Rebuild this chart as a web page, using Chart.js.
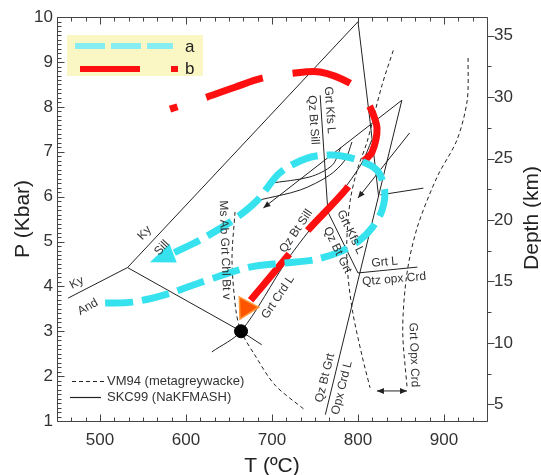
<!DOCTYPE html>
<html>
<head>
<meta charset="utf-8">
<script src="https://cdn.jsdelivr.net/npm/chart.js@4.4.0/dist/chart.umd.min.js"></script>
<style>
  html, body { margin: 0; padding: 0; background: #fff; }
</style>
</head>
<body>
<canvas id="chart" width="541" height="475"></canvas>
<script>
// Axis ticks
const tempTicks = [500, 600, 700, 800, 900];
const pressureTicks = [1, 2, 3, 4, 5, 6, 7, 8, 9, 10];
const depthTicks = [5, 10, 15, 20, 25, 30, 35];
const kmPerKbar = 3.65;

// SKC99 (NaKFMASH) reaction lines, [T ºC, P kbar]
const kyAndLine = [[463, 3.74], [532, 4.42]];
const kySillLine = [[532, 4.42], [800, 9.9]];
const andSillLine = [[532, 4.42], [664, 3.0], [688, 2.7]];
const grtCrdLLine = [[630, 2.54], [664, 3.0], [717, 4.57], [744, 5.26], [767, 5.79], [788, 6.28], [805, 6.77], [816, 7.26]];
const grtKfsLLine = [[756, 8.26], [765, 5.66], [800, 4.30]];
const opxCrdLLine = [[762, 1.14], [851, 8.15]];
const grtLLine = [[800, 4.30], [869, 4.43]];
const apexLine = [[800, 9.9], [814, 7.68], [824, 6.0]];
const arrowLineA = [[851, 8.15], [690, 5.75]];
const arrowLineB = [[860, 7.42], [800, 5.97]];
const shortLine = [[876, 6.19], [826, 6.04]];
const curveA = [[698, 6.30], [744, 6.44], [770, 6.70], [780, 7.10]];
const curveB = [[684, 5.92], [733, 6.15], [767, 6.48], [785, 6.82], [793, 7.22]];
const invariantPoint = [664, 3.0];

// VM94 (metagreywacke) curves
const msAbCurve = [[657, 5.66], [653.5, 4.59], [658, 3.47], [664, 3.0], [680, 2.47], [703.5, 1.80], [738, 1.25]];
const vmMidCurve = [[841, 9.26], [828, 8.49], [810.5, 7.22], [799, 6.59], [791, 5.92], [787, 5.03], [788, 4.30], [794, 3.41], [805, 2.43], [814, 1.74]];
const vmRightCurve = [[928, 9.09], [927, 8.15], [915, 7.26], [892, 6.44], [869, 5.32], [857, 4.30], [852, 3.03], [857, 1.76]];
const spanArrow = [[822, 1.67], [857, 1.67]];

// P-T paths a (cyan) and b (red)
const pathA = [[506, 3.63], [538, 3.65], [578, 3.83], [616, 4.08], [636, 4.21], [674, 4.43], [713, 4.52], [748, 4.59],
  [779, 4.77], [802, 5.03], [817, 5.32], [828, 5.70], [831, 6.15], [822, 6.59], [799, 6.82], [771, 6.93],
  [741, 6.86], [709, 6.53], [683, 5.92], [655, 5.48], [616, 5.03], [585, 4.74]];
const pathATip = [558, 4.54];
const pathB = [[581.4, 7.95], [624.4, 8.22], [657, 8.44], [688.4, 8.64], [724.4, 8.75], [755.8, 8.78], [790.7, 8.53],
  [804.7, 8.26], [814, 8.00], [822.1, 7.53], [816.3, 6.99], [805.8, 6.77], [787.2, 6.19], [740.7, 5.23],
  [720.9, 4.74], [673.3, 3.65]];
const pathBTip = [662.8, 3.27];

// Field / reaction labels: text, T, P, rotation (deg)
const fieldLabels = [
  ['Ky', 552, 5.19, -47],
  ['Sill', 572, 4.86, -47],
  ['Ky', 473, 4.08, -27],
  ['And', 486, 3.54, -30],
  ['Ms Ab Grt Chl Bt v', 645, 4.81, 88],
  ['Qz Bt Sill', 728, 5.23, -56],
  ['Grt Crd L', 707, 3.76, -56],
  ['Grt Kfs L', 767, 7.93, 86],
  ['Qz Bt Sill', 748, 7.71, 86],
  ['Grt Kfs L', 791, 5.21, 64],
  ['Qz Bt Grt', 776, 4.81, 64],
  ['Grt L', 831, 4.54, -5],
  ['Qtz opx Crd', 842, 4.16, -5],
  ['Grt Opx Crd', 865, 2.47, 88],
  ['Qz Bt Grt', 761.6, 1.96, -76],
  ['Opx Crd L', 781.4, 1.74, -76]
];

const FONT = "'Liberation Sans', Arial, sans-serif";
const CYAN = '#35e2ee';
const RED = '#ff1010';

const toXY = arr => arr.map(([t, p]) => ({ x: t, y: p }));

function thinLine(points, dashed, extra) {
  return Object.assign({
    data: toXY(points),
    showLine: true,
    pointRadius: 0,
    borderColor: '#222',
    borderWidth: 1,
    borderDash: dashed ? [4, 3] : [],
    tension: dashed ? 0.3 : 0,
    order: 10
  }, extra || {});
}

const smallHead = { len: 7, half: 3, fill: '#222' };

const datasets = [
  thinLine(kyAndLine),
  thinLine(kySillLine),
  thinLine(andSillLine),
  thinLine(grtCrdLLine, false, { tension: 0.3 }),
  thinLine(grtKfsLLine),
  thinLine(opxCrdLLine),
  thinLine(grtLLine),
  thinLine(apexLine),
  thinLine(arrowLineA, false, { arrow: smallHead }),
  thinLine(arrowLineB, false, { arrow: smallHead }),
  thinLine(shortLine),
  thinLine(curveA, false, { tension: 0.3 }),
  thinLine(curveB, false, { tension: 0.3 }),
  thinLine(msAbCurve, true),
  thinLine(vmMidCurve, true),
  thinLine(vmRightCurve, true),
  thinLine(spanArrow, false, { arrow: Object.assign({ both: true }, smallHead) }),
  {
    data: toXY(pathB),
    showLine: true, pointRadius: 0,
    borderColor: RED, borderWidth: 7,
    borderDash: [60, 30], borderDashOffset: 52,
    tension: 0.3, order: 2,
    arrow: { tip: pathBTip, half: 11, fill: '#ff5500', stroke: '#ff9a3a' }
  },
  {
    data: toXY(pathA),
    showLine: true, pointRadius: 0,
    borderColor: CYAN, borderWidth: 7,
    borderDash: [28, 9],
    tension: 0.3, order: 1,
    arrow: { tip: pathATip, half: 10, fill: CYAN }
  },
  {
    data: toXY([invariantPoint]),
    showLine: false, pointRadius: 6.5,
    backgroundColor: '#000', borderColor: '#000', order: 0
  }
];

// arrow heads at the end of flagged datasets
const arrowPlugin = {
  id: 'arrowHeads',
  afterDatasetsDraw(chart) {
    const { ctx, scales } = chart;
    const px = p => [scales.x.getPixelForValue(p.x), scales.y.getPixelForValue(p.y)];
    chart.data.datasets.forEach(ds => {
      const a = ds.arrow;
      if (!a) return;
      const pts = ds.data;
      const heads = [];
      if (a.tip) heads.push([pts[pts.length - 1], { x: a.tip[0], y: a.tip[1] }, true]);
      else heads.push([pts[pts.length - 2], pts[pts.length - 1], false]);
      if (a.both) heads.push([pts[1], pts[0], false]);
      heads.forEach(([from, to, fromBase]) => {
        const [x1, y1] = px(from);
        const [x2, y2] = px(to);
        const ang = Math.atan2(y2 - y1, x2 - x1);
        const len = fromBase ? Math.hypot(x2 - x1, y2 - y1) : a.len;
        ctx.save();
        ctx.translate(x2, y2);
        ctx.rotate(ang);
        ctx.beginPath();
        ctx.moveTo(0, 0);
        ctx.lineTo(-len, -a.half);
        ctx.lineTo(-len, a.half);
        ctx.closePath();
        ctx.fillStyle = a.fill;
        ctx.fill();
        if (a.stroke) {
          ctx.strokeStyle = a.stroke;
          ctx.lineWidth = 1.5;
          ctx.stroke();
        }
        ctx.restore();
      });
    });
  }
};

// reaction labels and legends
const annotationPlugin = {
  id: 'annotations',
  afterDatasetsDraw(chart) {
    const { ctx, scales: { x, y } } = chart;
    ctx.save();
    ctx.fillStyle = '#333';
    ctx.font = '12px ' + FONT;
    ctx.textAlign = 'center';
    ctx.textBaseline = 'middle';
    fieldLabels.forEach(([text, t, p, rot]) => {
      ctx.save();
      ctx.translate(x.getPixelForValue(t), y.getPixelForValue(p));
      ctx.rotate(rot * Math.PI / 180);
      ctx.fillText(text, 0, 0);
      ctx.restore();
    });

    // path legend (top left)
    ctx.fillStyle = '#fbf7c4';
    ctx.fillRect(67, 35, 136, 41);
    ctx.lineWidth = 6;
    ctx.strokeStyle = '#86eef2';
    ctx.setLineDash([30, 6]);
    ctx.beginPath(); ctx.moveTo(75, 46); ctx.lineTo(173, 46); ctx.stroke();
    ctx.setLineDash([]);
    ctx.strokeStyle = RED;
    ctx.beginPath(); ctx.moveTo(80, 69); ctx.lineTo(140, 69); ctx.stroke();
    ctx.fillStyle = RED;
    ctx.fillRect(171, 66, 7, 6);
    ctx.fillStyle = '#222';
    ctx.font = '17px ' + FONT;
    ctx.textAlign = 'left';
    ctx.textBaseline = 'alphabetic';
    ctx.fillText('a', 185, 52);
    ctx.fillText('b', 185, 74);

    // line style legend (bottom left)
    ctx.strokeStyle = '#222';
    ctx.lineWidth = 1.2;
    ctx.setLineDash([4, 3]);
    ctx.beginPath(); ctx.moveTo(72, 381.5); ctx.lineTo(106, 381.5); ctx.stroke();
    ctx.setLineDash([]);
    ctx.beginPath(); ctx.moveTo(70, 397.5); ctx.lineTo(101, 397.5); ctx.stroke();
    ctx.fillStyle = '#333';
    ctx.font = '13px ' + FONT;
    ctx.textBaseline = 'middle';
    ctx.fillText('VM94 (metagreywacke)', 107, 381);
    ctx.fillText('SKC99 (NaKFMASH)', 107, 397);
    ctx.restore();
  }
};

// frame, tick marks and axis titles
const framePlugin = {
  id: 'frame',
  afterDraw(chart) {
    const { ctx, chartArea: a, scales } = chart;
    const L = Math.round(a.left) + 0.5, R = Math.round(a.right) + 0.5;
    const T = Math.round(a.top) + 0.5, B = Math.round(a.bottom) + 0.5;
    ctx.save();
    ctx.strokeStyle = '#444';
    ctx.lineWidth = 1;
    ctx.beginPath();
    ctx.rect(L, T, R - L, B - T);
    // temperature ticks, 6 per 100 ºC, bottom and top, inward
    for (let i = 0; i <= 30; i++) {
      const X = Math.round(scales.x.getPixelForValue(450 + i * 100 / 6)) + 0.5;
      const len = (i - 3) % 6 === 0 ? 7 : 4;
      ctx.moveTo(X, B); ctx.lineTo(X, B - len);
      ctx.moveTo(X, T); ctx.lineTo(X, T + len);
    }
    // pressure ticks, left, inward
    for (let i = 0; i <= 90; i++) {
      const Y = Math.round(scales.y.getPixelForValue(1 + i * 0.1)) + 0.5;
      const len = i % 10 === 0 ? 7 : 4;
      ctx.moveTo(L, Y); ctx.lineTo(L + len, Y);
    }
    // depth ticks, right, outward
    for (let d = 5; d <= 35; d += 2.5) {
      const Y = Math.round(scales.y2.getPixelForValue(d)) + 0.5;
      const len = d % 5 === 0 ? 7 : 4;
      ctx.moveTo(R, Y); ctx.lineTo(R + len, Y);
    }
    ctx.stroke();

    ctx.fillStyle = '#222';
    ctx.font = '21px ' + FONT;
    ctx.textAlign = 'center';
    ctx.textBaseline = 'alphabetic';
    ctx.fillText('T (ºC)', 272, 472);
    ctx.save();
    ctx.translate(29, 219);
    ctx.rotate(-Math.PI / 2);
    ctx.fillText('P (Kbar)', 0, 0);
    ctx.restore();
    ctx.save();
    ctx.translate(538, 218);
    ctx.rotate(-Math.PI / 2);
    ctx.fillText('Depth (km)', 0, 0);
    ctx.restore();
    ctx.restore();
  }
};

const tickFont = { family: FONT, size: 17 };

new Chart(document.getElementById('chart'), {
  type: 'scatter',
  data: { datasets: datasets },
  options: {
    responsive: false,
    animation: false,
    events: [],
    layout: { padding: { top: 17, left: 0, right: 0, bottom: 0 } },
    plugins: { legend: { display: false }, tooltip: { enabled: false } },
    scales: {
      x: {
        type: 'linear', position: 'bottom', min: 450, max: 950,
        afterBuildTicks: s => { s.ticks = tempTicks.map(v => ({ value: v })); },
        afterFit: s => { s.height = 54; },
        grid: { display: false, drawTicks: false },
        border: { display: false },
        ticks: { padding: 9, font: tickFont, color: '#333', maxRotation: 0 }
      },
      y: {
        type: 'linear', position: 'left', min: 1, max: 10,
        afterBuildTicks: s => { s.ticks = pressureTicks.map(v => ({ value: v })); },
        afterFit: s => { s.width = 57; },
        grid: { display: false, drawTicks: false },
        border: { display: false },
        ticks: { padding: 4, font: tickFont, color: '#333' }
      },
      y2: {
        type: 'linear', axis: 'y', position: 'right',
        min: kmPerKbar * 1, max: kmPerKbar * 10,
        afterBuildTicks: s => { s.ticks = depthTicks.map(v => ({ value: v })); },
        afterFit: s => { s.width = 54; },
        grid: { display: false, drawTicks: false },
        border: { display: false },
        ticks: { padding: 7, font: tickFont, color: '#333' }
      }
    }
  },
  plugins: [arrowPlugin, annotationPlugin, framePlugin]
});
</script>
</body>
</html>
